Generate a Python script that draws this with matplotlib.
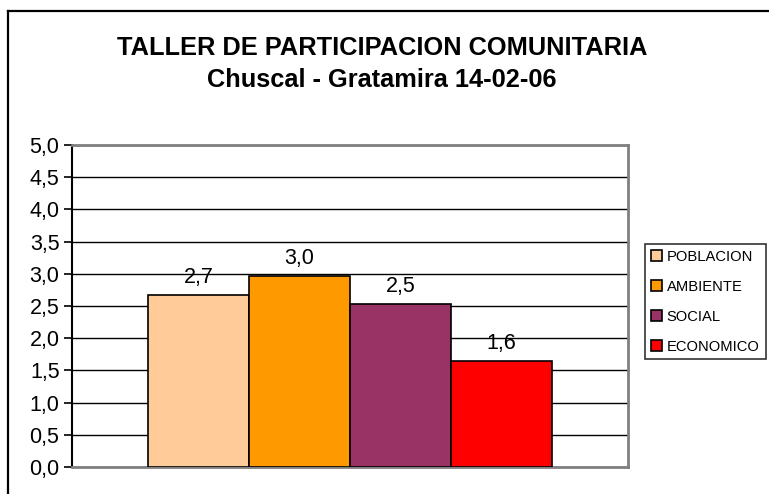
import matplotlib
matplotlib.use("Agg")
import matplotlib.pyplot as plt
from matplotlib.lines import Line2D

plt.rcParams['font.family'] = ['Liberation Sans', 'DejaVu Sans']

categories = ["POBLACION", "AMBIENTE", "SOCIAL", "ECONOMICO"]
values = [2.67, 2.96, 2.53, 1.64]
colors = ["#FFCC99", "#FF9900", "#993366", "#FF0000"]
yticks = [0.0, 0.5, 1.0, 1.5, 2.0, 2.5, 3.0, 3.5, 4.0, 4.5, 5.0]
title1 = "TALLER DE PARTICIPACION COMUNITARIA"
title2 = "Chuscal - Gratamira 14-02-06"

W, H = 769, 494
fig = plt.figure(figsize=(W / 100, H / 100), dpi=100)

# outer chart border (left and top visible)
fig.add_artist(Line2D([8 / W, 8 / W], [0, 1 - 11 / H], transform=fig.transFigure, color="black", lw=1.6))
fig.add_artist(Line2D([8 / W, 1], [1 - 11 / H, 1 - 11 / H], transform=fig.transFigure, color="black", lw=1.6))

ax = fig.add_axes([72 / W, (H - 467) / H, (628 - 72) / W, (467 - 145) / H])

n = len(values)
positions = [i - (n - 1) / 2 for i in range(n)]
bars = []
for pos, v, c, lab in zip(positions, values, colors, categories):
    b = ax.bar(pos, v, width=1.0, color=c, edgecolor="black", linewidth=1.2, label=lab, zorder=3)
    bars.append(b)
    ax.annotate(f"{v:.1f}".replace(".", ","), (pos, v), xytext=(0, 9), textcoords="offset points",
                ha="center", va="baseline", fontsize=15.5, zorder=4)

ax.set_xlim(-2.75, 2.75)
ax.set_ylim(0, 5)
ax.set_yticks(yticks)
ax.set_yticklabels([f"{t:.1f}".replace(".", ",") for t in yticks], fontsize=15.5)
ax.set_xticks([])
ax.yaxis.grid(True, color="black", linewidth=1.0, zorder=1)
ax.set_axisbelow(True)
ax.tick_params(axis="y", direction="out", length=6, width=1.2, color="black", pad=3)

for s in ["top", "right", "bottom"]:
    ax.spines[s].set_color("#808080")
    ax.spines[s].set_linewidth(2)
ax.spines["left"].set_color("black")
ax.spines["left"].set_linewidth(1.5)

fig.text(382 / W, 1 - 48 / H, title1, ha="center", va="center", fontsize=18.3, fontweight="bold")
fig.text(382 / W, 1 - 80 / H, title2, ha="center", va="center", fontsize=18.3, fontweight="bold")

leg = fig.legend(handles=[b[0] for b in bars], labels=categories,
                 loc="upper left", bbox_to_anchor=(645 / W, 1 - 244 / H),
                 fontsize=10.6, frameon=True, fancybox=False, edgecolor="black",
                 handlelength=0.75, handleheight=0.75, handletextpad=0.33,
                 borderpad=0.4, labelspacing=1.08, borderaxespad=0)
leg.get_frame().set_linewidth(1.2)

fig.savefig("out.png", dpi=100)
